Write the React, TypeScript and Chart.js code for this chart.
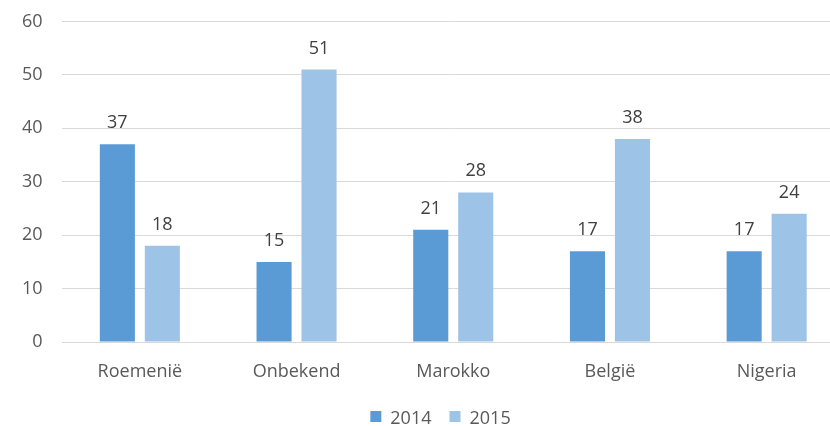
import React, { useEffect, useRef } from "react";
import { Chart, registerables } from "chart.js";

Chart.register(...registerables);

const categories = ["Roemenië", "Onbekend", "Marokko", "België", "Nigeria"];
const series2014 = [37, 15, 21, 17, 17];
const series2015 = [18, 51, 28, 38, 24];
const seriesNames = ["2014", "2015"];
const yTicks = [0, 10, 20, 30, 40, 50, 60];

const FONT = "'Open Sans', sans-serif";
const CANVAS_W = 878;
const LEGEND_CENTER_X = 440.5;
const LEGEND_BASELINE = 424;

const valueLabels = {
  id: "valueLabels",
  afterDatasetsDraw(chart: any) {
    const ctx = chart.ctx;
    ctx.save();
    ctx.font = `18px ${FONT}`;
    ctx.fillStyle = "#404040";
    ctx.textAlign = "center";
    ctx.textBaseline = "alphabetic";
    chart.data.datasets.forEach((ds: any, i: number) => {
      const meta = chart.getDatasetMeta(i);
      meta.data.forEach((bar: any, j: number) => {
        ctx.fillText(String(ds.data[j]), bar.x, bar.y - 16);
      });
    });
    ctx.restore();
  },
};

const customLegend = {
  id: "customLegend",
  afterDraw(chart: any) {
    const ctx = chart.ctx;
    ctx.save();
    ctx.font = `18px ${FONT}`;
    ctx.textBaseline = "alphabetic";
    ctx.textAlign = "left";
    const box = 11;
    const boxGap = 9;
    const itemGap = 18;
    const items = chart.data.datasets.map((ds: any) => ({
      label: ds.label,
      color: ds.backgroundColor,
      w: ctx.measureText(ds.label).width,
    }));
    const total =
      items.reduce((s: number, it: any) => s + box + boxGap + it.w, 0) + itemGap * (items.length - 1);
    let x = LEGEND_CENTER_X - total / 2;
    items.forEach((it: any) => {
      ctx.fillStyle = it.color;
      ctx.fillRect(x, LEGEND_BASELINE - 13, box, box);
      x += box + boxGap;
      ctx.fillStyle = "#595959";
      ctx.fillText(it.label, x, LEGEND_BASELINE);
      x += it.w + itemGap;
    });
    ctx.restore();
  },
};

export default function App() {
  const ref = useRef<HTMLCanvasElement>(null);
  useEffect(() => {
    const chart = new Chart(ref.current!, {
      type: "bar",
      data: {
        labels: categories,
        datasets: [
          { label: seriesNames[0], data: series2014, backgroundColor: "#5B9BD5" },
          { label: seriesNames[1], data: series2015, backgroundColor: "#9DC3E6" },
        ],
      },
      options: {
        animation: false,
        responsive: false,
        layout: { padding: { top: 21.5, right: 33, left: 0, bottom: 0 } },
        datasets: {
          bar: { categoryPercentage: 0.574, barPercentage: 0.78 },
        } as any,
        scales: {
          x: {
            grid: { display: false },
            border: { display: false },
            ticks: { color: "#595959", font: { family: FONT, size: 18 }, padding: 11 },
            afterFit: (axis: any) => {
              axis.height = 84;
            },
          },
          y: {
            min: 0,
            max: 60,
            afterBuildTicks: (axis: any) => {
              axis.ticks = yTicks.map((v) => ({ value: v }));
            },
            afterFit: (axis: any) => {
              axis.width = 61.5;
              axis.paddingTop = 0;
              axis.paddingBottom = 0;
            },
            grid: { color: "#d9d9d9", drawTicks: false },
            border: { display: false },
            ticks: { color: "#595959", font: { family: FONT, size: 18 }, padding: 19 },
          },
        },
        plugins: {
          legend: { display: false },
          tooltip: { enabled: false },
        },
      },
      plugins: [valueLabels, customLegend],
    });
    return () => chart.destroy();
  }, []);
  return (
    <div style={{ position: "absolute", left: 0, top: 0, width: 830, height: 426, overflow: "hidden", background: "#fff" }}>
      <canvas ref={ref} width={CANVAS_W} height={426} style={{ display: "block" }} />
    </div>
  );
}
